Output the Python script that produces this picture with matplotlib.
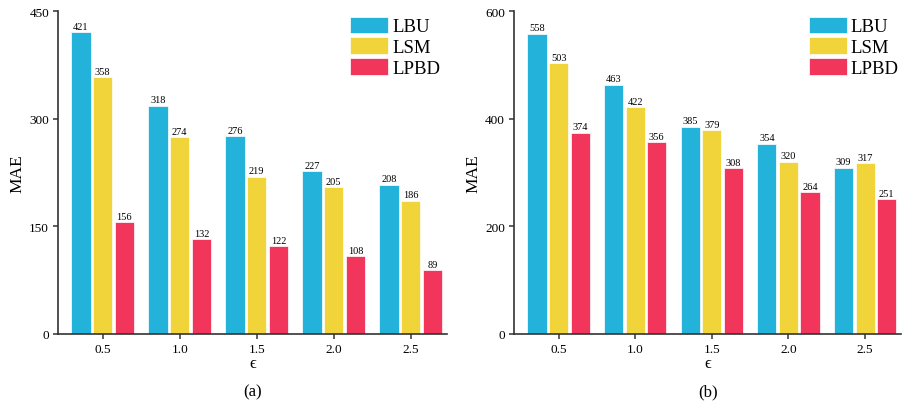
import numpy as np
import matplotlib.pyplot as plt

# data
eps = ["0.5", "1.0", "1.5", "2.0", "2.5"]
lbu_a = [421, 318, 276, 227, 208]
lsm_a = [358, 274, 219, 205, 186]
lpbd_a = [156, 132, 122, 108, 89]
lbu_b = [558, 463, 385, 354, 309]
lsm_b = [503, 422, 379, 320, 317]
lpbd_b = [374, 356, 308, 264, 251]

names = ["LBU", "LSM", "LPBD"]
colors = ["#22B2DA", "#F0D43A", "#F2355B"]

plt.rcParams['font.family'] = ['Liberation Serif', 'DejaVu Serif']

fig = plt.figure(figsize=(9.14, 4.06), dpi=100)
ax1 = fig.add_axes([0.0635, 0.175, 0.4256, 0.795])
ax2 = fig.add_axes([0.5625, 0.175, 0.4234, 0.795])


def draw(ax, series, ymax, step, tag, leg_x):
    x = np.arange(len(eps))
    w = 0.25
    offs = [-0.282, 0, 0.282]
    for s, o, c, n in zip(series, offs, colors, names):
        bars = ax.bar(x + o, s, w, color=c, label=n, edgecolor='white', linewidth=0.5)
        ax.bar_label(bars, labels=[str(v) for v in s], padding=1, fontsize=7.5)
    ax.set_xlim(-0.58, 4.47)
    ax.set_ylim(0, ymax)
    ax.set_yticks(np.arange(0, ymax + 1, step))
    ax.set_xticks(x)
    ax.set_xticklabels(eps)
    ax.tick_params(labelsize=9.5, direction='out', length=3.5, width=1.1, color='#333333', pad=3)
    ax.spines['top'].set_visible(False)
    ax.spines['right'].set_visible(False)
    for side in ['left', 'bottom']:
        ax.spines[side].set_linewidth(1.2)
        ax.spines[side].set_color('#333333')
    ax.set_ylabel("MAE", fontsize=12.5, labelpad=3)
    ax.set_xlabel("ϵ", fontsize=12, labelpad=0)
    ax.text(0.5, -0.152, tag, transform=ax.transAxes, ha='center', va='top', fontsize=12)
    ax.legend(loc='upper left', bbox_to_anchor=(leg_x, 0.983), frameon=False, fontsize=13.5,
              borderaxespad=0, borderpad=0,
              handlelength=2.03, handleheight=1.0, handletextpad=0.2, labelspacing=0.1)


draw(ax1, [lbu_a, lsm_a, lpbd_a], 450, 150, "(a)", 0.751)
draw(ax2, [lbu_b, lsm_b, lpbd_b], 600, 200, "(b)", 0.762)

fig.savefig("out.png", dpi=100)
